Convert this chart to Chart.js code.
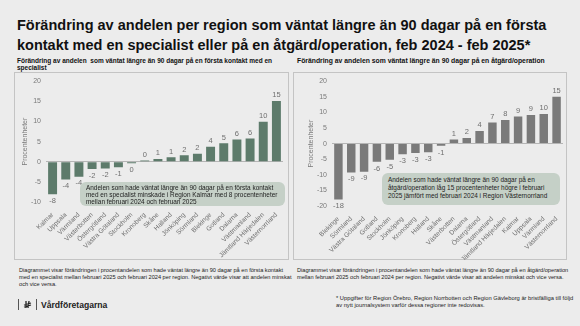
<!DOCTYPE html>
<html>
<head>
<meta charset="utf-8">
<script src="https://cdn.jsdelivr.net/npm/chart.js@4.4.1/dist/chart.umd.min.js"></script>
<style>
  html, body { margin: 0; padding: 0; }
  body { width: 580px; height: 326px; background: #ececec; font-family: "Liberation Sans", Arial, sans-serif; color: #111; position: relative; overflow: hidden; }
  .abs { position: absolute; white-space: nowrap; }
  #title { left: 17px; top: 15px; font-size: 14.5px; font-weight: bold; line-height: 20px; }
  .sub { font-size: 6.5px; font-weight: bold; line-height: 7px; top: 57px; }
  .panel { border: 1px solid #c4c4c4; box-sizing: border-box; }
  .note { background: #c5d0c7; border-radius: 6px; font-size: 6.45px; color: #222; box-sizing: border-box; }
  .foot { font-size: 5.65px; line-height: 7px; color: #222; }
  #logo { left: 14px; top: 299px; font-size: 8.6px; font-weight: bold; color: #222; display: flex; align-items: center; }
  .bar { display: inline-block; width: 1px; height: 11px; background: #555; margin: 0 4px; }
</style>
</head>
<body>
<div id="title" class="abs">Förändring av andelen per region som väntat längre än 90 dagar på en första<br>kontakt med en specialist eller på en åtgärd/operation, feb 2024 - feb 2025*</div>

<div class="abs sub" style="left:17px;">Förändring av andelen&nbsp; som väntat längre än 90 dagar på en första kontakt med en<br>specialist</div>
<div class="abs sub" style="left:297px; font-size:6.8px;">Förändring av andelen som väntat längre än 90 dagar på en åtgärd/operation</div>

<div class="abs panel" style="left:14px; top:72px; width:275px; height:188px;"></div>
<div class="abs panel" style="left:293px; top:72px; width:274px; height:188px;"></div>

<canvas id="leftChart" class="abs" style="left:14px; top:72px;" width="274" height="188"></canvas>
<canvas id="rightChart" class="abs" style="left:293px; top:72px;" width="273" height="188"></canvas>

<div class="abs note" style="left:80px; top:182px; width:205px; height:24px; padding:2px 0 0 6px; line-height:7.2px;">Andelen som hade väntat längre än 90 dagar på en första kontakt<br>med en specialist minskade i Region Kalmar med 8 procentenheter<br>mellan februari 2024 och februari 2025</div>
<div class="abs note" style="left:382px; top:173px; width:178px; height:32px; padding:3px 0 0 6px; line-height:8px;">Andelen som hade väntat längre än 90 dagar på en<br>åtgärd/operation låg 15 procentenheter högre i februari<br>2025 jämfört med februari 2024 i Region Västernorrland</div>

<div class="abs foot" style="left:19px; top:267px;">Diagrammet visar förändringen i procentandelen som hade väntat längre än 90 dagar på en första kontakt<br>med en specialist mellan februari 2025 och februari 2024 per region. Negativt värde visar att andelen minskat<br>och vice versa.</div>
<div class="abs foot" style="left:297px; top:267px;">Diagrammet visar förändringen i procentandelen som hade väntat längre än 90 dagar på en åtgärd/operation<br>mellan februari 2025 och februari 2024 per region. Negativt värde visar att andelen minskat och vice versa.</div>
<div class="abs foot" style="left:336px; top:295px; font-size:5.75px;">* Uppgifter för Region Örebro, Region Norrbotten och Region Gävleborg är bristfälliga till följd<br>av nytt journalsystem varför dessa regioner inte redovisas.</div>

<div id="logo" class="abs"><span class="bar"></span><svg width="9" height="9" viewBox="0 0 9 9"><path d="M1 5 L8 3 M1 7 L8 5 M3 1 L3 8 M6 1 L5 8" stroke="#222" stroke-width="1.3" fill="none"/></svg><span class="bar"></span><span>Vårdföretagarna</span></div>

<script>
// Left chart: första kontakt med en specialist
const leftRegions = ['Kalmar', 'Uppsala', 'Värmland', 'Västerbotten', 'Östergötland', 'Västra Götaland',
    'Stockholm', 'Kronoberg', 'Skåne', 'Halland', 'Jönköping', 'Sörmland', 'Blekinge', 'Gotland',
    'Dalarna', 'Västmanland', 'Jämtland Härjedalen', 'Västernorrland'];
const leftValues = [-8.1, -4.4, -3.7, -1.8, -1.7, -1.4, -0.4, 0.3, 0.7, 1.1, 1.6, 2.0, 3.7, 4.6, 5.5, 5.8, 9.9, 15.1];
const leftTicks = [-10, 20, 5];

// Right chart: åtgärd/operation
const rightRegions = ['Blekinge', 'Sörmland', 'Västra Götaland', 'Gotland', 'Stockholm', 'Jönköping',
    'Kronoberg', 'Halland', 'Skåne', 'Västerbotten', 'Dalarna', 'Östergötland', 'Västmanland',
    'Jämtland Härjedalen', 'Kalmar', 'Uppsala', 'Värmland', 'Västernorrland'];
const rightValues = [-17.9, -9.3, -9.0, -5.8, -5.2, -3.4, -3.0, -2.8, -0.7, 1.3, 1.8, 4.0, 6.8, 7.6, 8.7, 9.2, 9.5, 15.0];
const rightTicks = [-20, 20, 5];

const FONT = "'Liberation Sans', Arial, sans-serif";

// draws rounded value labels above/below each bar
const valueLabels = {
    id: 'valueLabels',
    afterDatasetsDraw(chart) {
        const ctx = chart.ctx;
        const meta = chart.getDatasetMeta(0);
        const data = chart.data.datasets[0].data;
        ctx.save();
        ctx.font = '7.5px ' + FONT;
        ctx.fillStyle = '#6f6f6f';
        ctx.textAlign = 'center';
        meta.data.forEach((bar, i) => {
            const v = data[i];
            const txt = String(Math.round(v) === 0 ? 0 : Math.round(v));
            if (v >= 0) {
                ctx.textBaseline = 'bottom';
                ctx.fillText(txt, bar.x, bar.y - 2);
            } else {
                ctx.textBaseline = 'top';
                ctx.fillText(txt, bar.x, bar.y + 3);
            }
        });
        ctx.restore();
    }
};

function makeChart(id, labels, values, ticks, color, opts) {
    return new Chart(document.getElementById(id), {
        type: 'bar',
        data: {
            labels: labels,
            datasets: [{
                data: values,
                backgroundColor: color,
                categoryPercentage: 1,
                barPercentage: opts.barPct
            }]
        },
        options: {
            responsive: false,
            animation: false,
            layout: { padding: opts.padding },
            plugins: { legend: { display: false }, tooltip: { enabled: false } },
            scales: {
                x: {
                    grid: { display: false },
                    border: { display: false },
                    ticks: {
                        autoSkip: false,
                        maxRotation: 45,
                        minRotation: 45,
                        padding: 1,
                        color: '#6f6f6f',
                        font: { family: FONT, size: 6.6 }
                    },
                    afterFit: (scale) => { scale.height = opts.xHeight; }
                },
                y: {
                    min: ticks[0],
                    max: ticks[1],
                    border: { display: false },
                    grid: {
                        drawTicks: false,
                        color: (c) => c.tick && c.tick.value === 0 ? '#b5b5b5' : 'rgba(0,0,0,0)'
                    },
                    ticks: {
                        stepSize: ticks[2],
                        padding: 5,
                        color: '#7a7a7a',
                        font: { family: FONT, size: 7 }
                    },
                    title: {
                        display: true,
                        text: 'Procentenheter',
                        color: '#7a7a7a',
                        padding: { top: 0, bottom: 0 },
                        font: { family: FONT, size: 7 }
                    },
                    afterFit: (scale) => { scale.width = opts.yWidth; }
                }
            }
        },
        plugins: [valueLabels]
    });
}

makeChart('leftChart', leftRegions, leftValues, leftTicks, '#5d7b6b',
    { barPct: 0.68, padding: { left: 7, right: 5, top: 7, bottom: 0 }, xHeight: 58, yWidth: 25 });
makeChart('rightChart', rightRegions, rightValues, rightTicks, '#7a7a7a',
    { barPct: 0.66, padding: { left: 14, right: 3, top: 3, bottom: 0 }, xHeight: 54, yWidth: 25 });
</script>
</body>
</html>
